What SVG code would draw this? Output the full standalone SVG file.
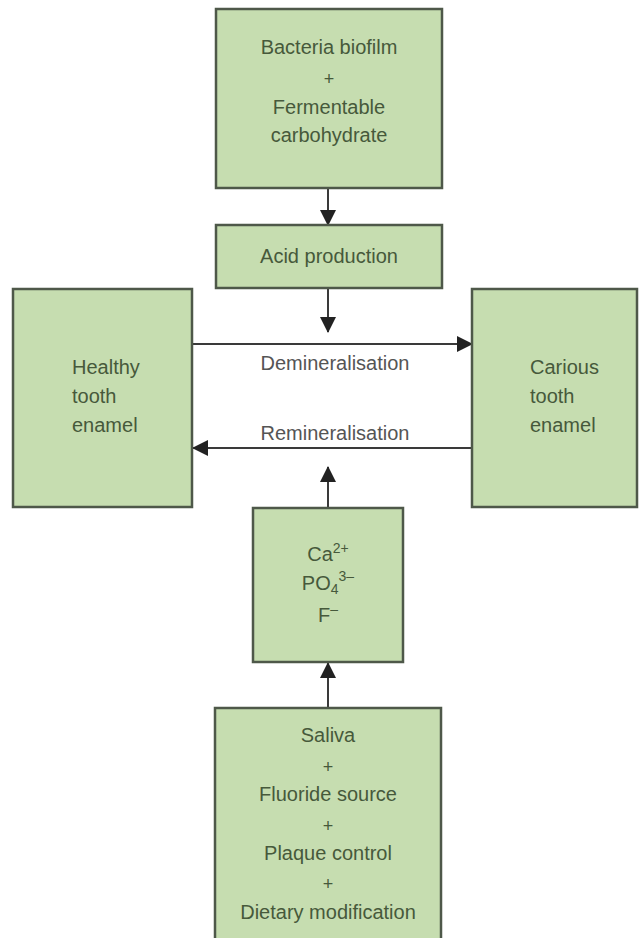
<svg xmlns="http://www.w3.org/2000/svg" width="639" height="938" viewBox="0 0 639 938">
<defs>
<style>
.box{fill:#c6ddb0;stroke:#4e5849;stroke-width:2.5}
.t{font-family:"Liberation Sans",Arial,sans-serif;font-size:20px;fill:#46593b}
.c{text-anchor:middle}
.p{font-size:18px}
.lbl{font-family:"Liberation Sans",Arial,sans-serif;font-size:20px;fill:#555;text-anchor:middle}
.ln{stroke:#3a3a3a;stroke-width:2;fill:none}
.s{font-size:14px}
</style>
<marker id="ah" markerUnits="userSpaceOnUse" markerWidth="16" markerHeight="16" viewBox="0 0 16 16" refX="15" refY="8" orient="auto">
<path d="M0,0 L16,8 L0,16 Z" fill="#222"/>
</marker>
</defs>
<rect width="639" height="938" fill="#fff"/>
<g id="connectors">
<line class="ln" x1="328" y1="188" x2="328" y2="225" marker-end="url(#ah)"/>
<line class="ln" x1="328" y1="288" x2="328" y2="332" marker-end="url(#ah)"/>
<line class="ln" x1="192" y1="344" x2="472" y2="344" marker-end="url(#ah)"/>
<line class="ln" x1="472" y1="448" x2="193" y2="448" marker-end="url(#ah)"/>
<line class="ln" x1="328" y1="508" x2="328" y2="467" marker-end="url(#ah)"/>
<line class="ln" x1="328" y1="708" x2="328" y2="663" marker-end="url(#ah)"/>
<text class="lbl" x="335" y="370">Demineralisation</text>
<text class="lbl" x="335" y="440">Remineralisation</text>
</g>
<g id="biofilm">
<rect class="box" x="216" y="9" width="226" height="179"/>
<text class="t c" x="329" y="54">Bacteria biofilm</text>
<text class="t c p" x="329" y="85">+</text>
<text class="t c" x="329" y="114">Fermentable</text>
<text class="t c" x="329" y="142">carbohydrate</text>
</g>
<g id="acid">
<rect class="box" x="216" y="225" width="226" height="63"/>
<text class="t c" x="329" y="263">Acid production</text>
</g>
<g id="healthy">
<rect class="box" x="13" y="289" width="179" height="218"/>
<text class="t" x="72" y="374">Healthy</text>
<text class="t" x="72" y="403">tooth</text>
<text class="t" x="72" y="432">enamel</text>
</g>
<g id="carious">
<rect class="box" x="472" y="289" width="165" height="218"/>
<text class="t" x="530" y="374">Carious</text>
<text class="t" x="530" y="403">tooth</text>
<text class="t" x="530" y="432">enamel</text>
</g>
<g id="ions">
<rect class="box" x="253" y="508" width="150" height="154"/>
<text class="t c" x="328" y="561">Ca<tspan class="s" dy="-8">2+</tspan></text>
<text class="t c" x="328" y="590">PO<tspan class="s" dy="4">4</tspan><tspan class="s" dy="-13">3–</tspan></text>
<text class="t c" x="328" y="622">F<tspan class="s" dy="-8">–</tspan></text>
</g>
<g id="factors">
<rect class="box" x="215" y="708" width="226" height="240"/>
<text class="t c" x="328" y="742">Saliva</text>
<text class="t c p" x="328" y="773">+</text>
<text class="t c" x="328" y="801">Fluoride source</text>
<text class="t c p" x="328" y="832">+</text>
<text class="t c" x="328" y="860">Plaque control</text>
<text class="t c p" x="328" y="890">+</text>
<text class="t c" x="328" y="919">Dietary modification</text>
</g>
</svg>
